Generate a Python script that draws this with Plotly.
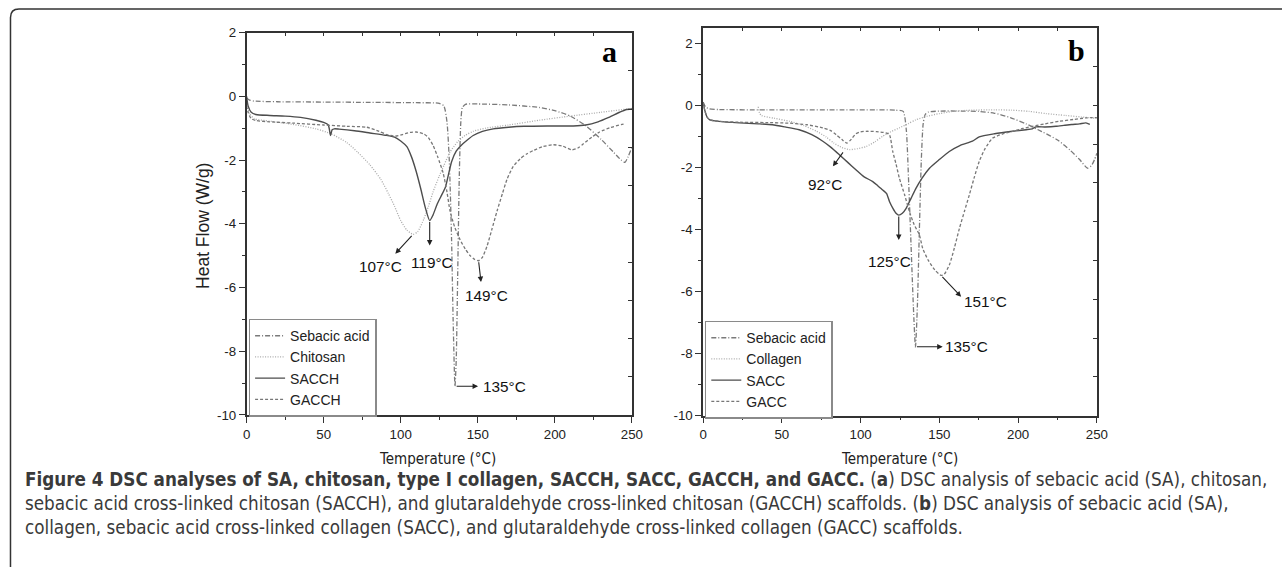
import plotly.graph_objects as go

W, H = 1282, 567

# ---------------- Panel (a) data ----------------
sa_a_T = [0, 2, 5, 20, 50, 80, 110, 125, 128, 130, 131.5, 133, 134, 135.2, 136, 137, 138, 139, 140, 142, 150, 170, 190, 200, 210, 220, 230, 238, 243, 245.5, 247.5, 250]
sa_a_v = [-0.05, -0.12, -0.15, -0.17, -0.18, -0.19, -0.2, -0.22, -0.3, -0.8, -2.0, -4.5, -7.0, -9.1, -8.3, -5.5, -2.5, -0.8, -0.35, -0.25, -0.24, -0.27, -0.35, -0.45, -0.62, -0.92, -1.35, -1.75, -2.0, -2.07, -1.9, -1.6]

chi_T = [0, 2, 5, 15, 30, 45, 55, 65, 72, 80, 87, 92, 96, 100, 104, 108, 111, 115, 118, 121, 125, 128, 132, 137, 142, 147, 155, 170, 190, 210, 230, 250]
chi_v = [-0.2, -0.55, -0.7, -0.78, -0.88, -1.02, -1.18, -1.45, -1.75, -2.15, -2.6, -3.05, -3.45, -3.9, -4.2, -4.33, -4.25, -3.85, -3.45, -3.0, -2.5, -2.17, -1.75, -1.42, -1.22, -1.1, -1.0, -0.9, -0.75, -0.62, -0.5, -0.38]

sacch_T = [0, 1, 3, 6, 15, 25, 35, 45, 50, 53, 54.5, 55.5, 57, 60, 70, 80, 90, 96, 100, 104, 107, 110, 113, 116, 118.8, 121, 123.5, 126, 129, 131, 133, 136, 139, 143, 147, 153, 160, 170, 180, 195, 212, 220, 228, 235, 242, 246, 250]
sacch_v = [0, -0.3, -0.5, -0.57, -0.6, -0.62, -0.66, -0.75, -0.82, -0.9, -1.23, -1.05, -1.02, -1.03, -1.08, -1.15, -1.22, -1.28, -1.4, -1.58, -1.9, -2.35, -2.9, -3.5, -3.9, -3.72, -3.4, -3.15, -2.85, -2.45, -2.05, -1.72, -1.55, -1.38, -1.23, -1.1, -1.02, -0.97, -0.94, -0.93, -0.93, -0.9, -0.8, -0.66, -0.5, -0.42, -0.4]

gacch_T = [0, 1, 3, 6, 15, 30, 50, 65, 78, 86, 91, 96, 101, 106, 110, 115, 118, 121, 124, 127.5, 130, 132, 135, 138.5, 142, 145, 148, 150.5, 153, 156, 159, 162.5, 166, 169, 173, 177.5, 182, 186, 192, 199, 205, 211, 215, 218.5, 224, 229, 236, 243, 245]
gacch_v = [-0.3, -0.5, -0.7, -0.76, -0.8, -0.84, -0.9, -0.94, -0.97, -1.1, -1.2, -1.25, -1.2, -1.13, -1.12, -1.18, -1.3, -1.54, -1.9, -2.4, -3.0, -3.6, -4.1, -4.5, -4.8, -5.0, -5.12, -5.16, -5.05, -4.7, -4.2, -3.6, -3.05, -2.6, -2.2, -1.96, -1.8, -1.7, -1.58, -1.52, -1.56, -1.68, -1.62, -1.49, -1.28, -1.12, -0.98, -0.89, -0.87]

# ---------------- Panel (b) data ----------------
sa_b_T = [0, 1.5, 4, 10, 40, 80, 110, 122, 127, 129, 130.5, 132, 133.5, 134.8, 136, 137.3, 138.5, 139.7, 141, 143, 150, 165, 175, 185, 195, 205, 215, 225, 233, 239, 244, 246.5, 248.5, 250]
sa_b_v = [0.1, -0.05, -0.12, -0.14, -0.15, -0.15, -0.15, -0.16, -0.2, -0.8, -2.5, -4.5, -6.5, -7.8, -6.5, -4.0, -1.8, -0.6, -0.3, -0.22, -0.19, -0.19, -0.2, -0.26, -0.4, -0.6, -0.85, -1.12, -1.45, -1.75, -2.03, -1.95, -1.75, -1.55]

col_T = [35, 35.8, 37, 45, 55, 64, 72, 78, 83, 88, 93, 98, 103.5, 109, 114, 119, 124.6, 130, 135, 142, 150, 160, 171, 185, 196, 207, 217.6, 230, 240, 247, 250]
col_v = [-0.05, -0.25, -0.33, -0.42, -0.52, -0.66, -0.84, -1.02, -1.22, -1.36, -1.43, -1.4, -1.33, -1.18, -1.0, -0.86, -0.73, -0.6, -0.47, -0.36, -0.27, -0.19, -0.16, -0.15, -0.16, -0.2, -0.27, -0.33, -0.38, -0.41, -0.42]

sacc_T = [0, 1, 2.5, 4.2, 10, 23, 35, 44, 52, 61, 69, 76, 81, 86.6, 92, 97, 102, 107.7, 111, 114, 116.5, 118.3, 120.5, 122.5, 124.2, 126.5, 128.9, 132, 135.2, 139, 143.7, 150, 156.3, 163, 171, 175.3, 185, 196.5, 205, 209, 211.3, 217, 224, 229, 234, 239, 243, 245.5]
sacc_v = [0.1, -0.15, -0.38, -0.47, -0.52, -0.57, -0.6, -0.63, -0.7, -0.79, -0.95, -1.16, -1.35, -1.6, -1.85, -2.08, -2.3, -2.46, -2.6, -2.73, -2.85, -3.1, -3.32, -3.48, -3.54, -3.48, -3.32, -3.0, -2.67, -2.35, -2.03, -1.75, -1.49, -1.3, -1.16, -1.02, -0.92, -0.84, -0.79, -0.76, -0.7, -0.7, -0.68, -0.65, -0.62, -0.6, -0.57, -0.62]

gacc_T = [0, 1, 2.5, 4.2, 10, 25, 40, 55, 66, 76, 81, 84.5, 88, 91.3, 94, 97, 100, 103.5, 110, 116, 118.3, 120.4, 122.5, 124.6, 128, 131, 134, 137.3, 139.4, 143, 147, 151, 153, 156.3, 159.5, 162.7, 166, 169, 172, 175.3, 179, 183.8, 190, 196.5, 203, 209, 217, 226, 235, 243, 247, 250]
gacc_v = [0.1, -0.15, -0.38, -0.47, -0.52, -0.55, -0.56, -0.58, -0.63, -0.73, -0.82, -0.95, -1.1, -1.22, -1.1, -0.92, -0.86, -0.84, -0.85, -0.89, -0.95, -1.49, -1.9, -2.35, -2.9, -3.43, -3.85, -4.18, -4.61, -5.0, -5.3, -5.48, -5.45, -5.15, -4.6, -3.97, -3.4, -2.89, -2.35, -1.81, -1.4, -1.06, -0.93, -0.84, -0.75, -0.68, -0.6, -0.52, -0.46, -0.41, -0.4, -0.4]

# peak annotations: label, peak (T, v), arrow head (T, v), text (T, v), anchor
peaks_a = [
    ("107°C", 108.0, -4.33, 96.5, -4.94, 86.7, -5.35, "center"),
    ("119°C", 118.8, -3.9, 118.8, -4.68, 120.2, -5.2, "center"),
    ("149°C", 150.5, -5.16, 152.1, -5.83, 155.8, -6.26, "center"),
    ("135°C", 135.3, -9.1, 150.2, -9.1, 152.4, -9.1, "left"),
]
peaks_b = [
    ("92°C", 89.5, -1.47, 82.4, -1.97, 77.1, -2.57, "center"),
    ("125°C", 124.2, -3.54, 124.2, -4.34, 118.3, -5.04, "center"),
    ("151°C", 151.0, -5.48, 163.8, -6.17, 164.4, -6.32, "left"),
    ("135°C", 134.8, -7.78, 152.1, -7.78, 152.4, -7.78, "left"),
]

legend_a = ["Sebacic acid", "Chitosan", "SACCH", "GACCH"]
legend_b = ["Sebacic acid", "Collagen", "SACC", "GACC"]

x_ticks = [0, 50, 100, 150, 200, 250]
y_ticks = [-10, -8, -6, -4, -2, 0, 2]
y_tick_text = ["-10", "-8", "-6", "-4", "-2", "0", "2"]

# ---------------- styling ----------------
SANS = "Liberation Sans, Arial, sans-serif"
NARROW = "DejaVu Sans Condensed, Liberation Sans Narrow, Liberation Sans, sans-serif"
SERIF = "Liberation Serif, Times New Roman, serif"
styles = [
    dict(color="#7a7a7a", width=1.3, dash="5px,2px,1px,2px"),
    dict(color="#ababab", width=1.3, dash="1px,1.5px"),
    dict(color="#4d4d4d", width=1.4, dash="solid"),
    dict(color="#777777", width=1.3, dash="3px,2px"),
]

fig = go.Figure()
series_a = [(sa_a_T, sa_a_v), (chi_T, chi_v), (sacch_T, sacch_v), (gacch_T, gacch_v)]
series_b = [(sa_b_T, sa_b_v), (col_T, col_v), (sacc_T, sacc_v), (gacc_T, gacc_v)]
for (t, v), name, st in zip(series_a, legend_a, styles):
    fig.add_trace(go.Scatter(x=t, y=v, mode="lines", name=name, line=dict(shape="spline", smoothing=0.6, **st),
                             xaxis="x", yaxis="y", legend="legend"))
for (t, v), name, st in zip(series_b, legend_b, styles):
    fig.add_trace(go.Scatter(x=t, y=v, mode="lines", name=name, line=dict(shape="spline", smoothing=0.6, **st),
                             xaxis="x2", yaxis="y2", legend="legend2"))

# the photographed picture shows the page slightly inset and scaled; place things
# so that they land on the intended picture pixels
SX, OX = 0.990, 3.0
SY, OY = 0.970, 9.5


def px(p):
    return ((p - OX) / SX) / W


def py(p):
    return 1 - ((p - OY) / SY) / H


AX = "#333333"
TICKFONT = dict(family=SANS, size=13.3, color="#222")
common_x = dict(range=[0, 250], tickvals=x_ticks, ticks="outside", ticklen=6, tickwidth=1.3, tickcolor=AX,
                minor=dict(dtick=25, ticks="outside", ticklen=3, tickwidth=1.3, tickcolor=AX),
                showline=True, linecolor=AX, linewidth=1.5, showgrid=False, zeroline=False, tickfont=TICKFONT)
common_y = dict(tickvals=y_ticks, ticktext=y_tick_text, ticks="outside", ticklen=6, tickwidth=1.3, tickcolor=AX,
                minor=dict(dtick=1, ticks="outside", ticklen=3, tickwidth=1.3, tickcolor=AX),
                showline=True, linecolor=AX, linewidth=1.5, showgrid=False, zeroline=False, tickfont=TICKFONT)
top_x = dict(range=[0, 250], dtick=25, ticks="inside", ticklen=4, tickwidth=1.3, tickcolor=AX, side="top",
             showline=True, linecolor=AX, linewidth=1.5, showgrid=False, zeroline=False, showticklabels=False)
right_y = dict(range=[0, 10], dtick=1, ticks="inside", ticklen=4, tickwidth=1.3, tickcolor=AX, side="right",
               showline=True, linecolor=AX, linewidth=1.5, showgrid=False, zeroline=False, showticklabels=False)

dom_xa = [px(246), px(632)]
dom_ya = [py(416), py(35)]
dom_xb = [px(703.3), px(1097.8)]
dom_yb = [py(416.7), py(30)]

LEGFONT = dict(family=SANS, size=14, color="#222")
fig.update_layout(
    width=W, height=H, autosize=False, margin=dict(l=0, r=0, t=0, b=0),
    paper_bgcolor="white", plot_bgcolor="white",
    xaxis=dict(domain=dom_xa, anchor="y", **common_x),
    yaxis=dict(domain=dom_ya, anchor="x", range=[-10, 2], **common_y),
    xaxis2=dict(domain=dom_xb, anchor="y2", **common_x),
    yaxis2=dict(domain=dom_yb, anchor="x2", range=[-10, 2.5], **common_y),
    xaxis3=dict(overlaying="x", anchor="y", **top_x),
    yaxis3=dict(overlaying="y", anchor="x", **right_y),
    xaxis4=dict(overlaying="x2", anchor="y2", **top_x),
    yaxis4=dict(overlaying="y2", anchor="x2", **right_y),
    legend=dict(x=px(248), y=py(320), xanchor="left", yanchor="top", bgcolor="white",
                bordercolor="#8a8a8a", borderwidth=1.5, font=LEGFONT, itemwidth=30, tracegroupgap=0),
    legend2=dict(x=px(705), y=py(322), xanchor="left", yanchor="top", bgcolor="white",
                 bordercolor="#8a8a8a", borderwidth=1.5, font=LEGFONT, itemwidth=30, tracegroupgap=0),
    showlegend=True,
)
# invisible traces to activate overlay axes
fig.add_trace(go.Scatter(x=[None], y=[None], xaxis="x3", yaxis="y3", showlegend=False, hoverinfo="skip"))
fig.add_trace(go.Scatter(x=[None], y=[None], xaxis="x4", yaxis="y4", showlegend=False, hoverinfo="skip"))

ann = []
for peaks, xr, yr in ((peaks_a, "x", "y"), (peaks_b, "x2", "y2")):
    for lab, pt, pv, ht, hv, tt, tv, anc in peaks:
        ann.append(dict(x=ht, y=hv, ax=pt, ay=pv, xref=xr, yref=yr, axref=xr, ayref=yr, text="",
                        showarrow=True, arrowhead=2, arrowsize=1, arrowwidth=1.1, arrowcolor="#222",
                        standoff=0, startstandoff=0))
        ann.append(dict(x=tt, y=tv, xref=xr, yref=yr, text=lab, showarrow=False, xanchor=anc, yanchor="middle",
                        font=dict(family=SANS, size=15.3, color="#111")))


def paper_text(x, y, text, font, **kw):
    d = dict(x=px(x), y=py(y), xref="paper", yref="paper", text=text, showarrow=False,
             xanchor="center", yanchor="middle", font=font)
    d.update(kw)
    return d


# panel letters
ann.append(paper_text(610, 54, "<b>a</b>", dict(family=SERIF, size=30, color="#000")))
ann.append(paper_text(1077, 53, "<b>b</b>", dict(family=SERIF, size=30, color="#000")))
# axis titles
ann.append(paper_text(203, 228, "Heat Flow (W/g)", dict(family=SANS, size=17.5, color="#222"), textangle=-90))
for cx in (437, 900):
    ann.append(paper_text(cx, 460, "Temperature (°C)", dict(family=NARROW, size=15, color="#222")))

caption = [
    "<b>Figure 4 DSC analyses of SA, chitosan, type I collagen, SACCH, SACC, GACCH, and GACC.</b> "
    "(<b>a</b>) DSC analysis of sebacic acid (SA), chitosan,",
    "sebacic acid cross-linked chitosan (SACCH), and glutaraldehyde cross-linked chitosan (GACCH) scaffolds. "
    "(<b>b</b>) DSC analysis of sebacic acid (SA),",
    "collagen, sebacic acid cross-linked collagen (SACC), and glutaraldehyde cross-linked collagen (GACC) scaffolds.",
]
for i, line in enumerate(caption):
    ann.append(paper_text(22, 480 + 24 * i, line, dict(family=NARROW, size=18.7, color="#3a3a3a"), xanchor="left"))

fig.update_layout(annotations=ann)

# rounded frame around the figure
fig.add_shape(type="path", xref="paper", yref="paper",
              path=f"M {px(9.5)},{py(590)} L {px(9.5)},{py(20)} Q {px(9.5)},{py(11.5)} {px(18)},{py(11.5)} L {px(1300)},{py(11.5)}",
              line=dict(color="#333", width=1.5))

# pin the graph to the window's top-left corner (no page margin, no scrolling)
pin = ("document.documentElement.style.overflow='hidden';"
       "document.body.style.margin='0';document.body.style.overflow='hidden';"
       "var g=document.getElementById('{plot_id}');g.style.position='fixed';g.style.left='0px';g.style.top='0px';")

fig.write_html("out.html", post_script=pin, config={"displayModeBar": False})
